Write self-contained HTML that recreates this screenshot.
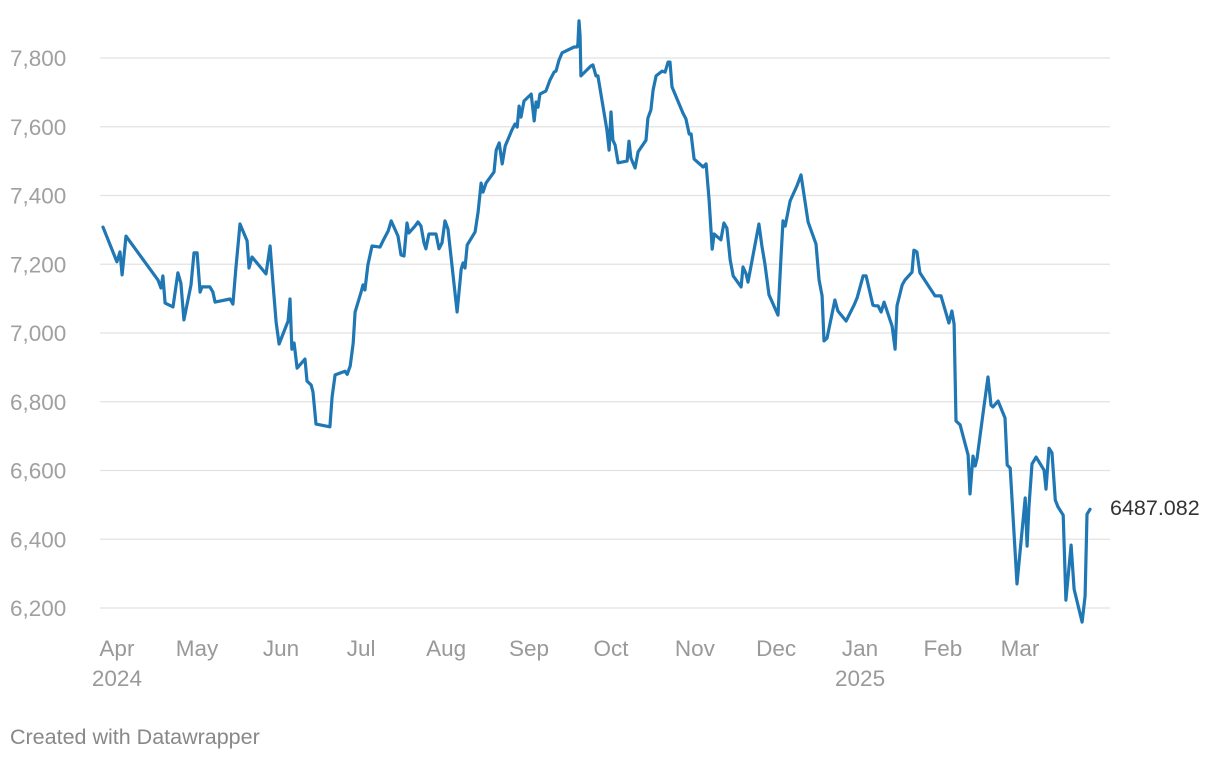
<!DOCTYPE html>
<html><head><meta charset="utf-8"><style>
body{margin:0;background:#fff;font-family:"Liberation Sans",sans-serif;}
svg text{font-family:"Liberation Sans",sans-serif;}
</style></head><body>
<svg id="chart" width="1220" height="760" xmlns="http://www.w3.org/2000/svg">
<g id="grid"></g>
<g id="yaxis"></g>
<g id="xaxis"></g>
<path id="line" fill="none" stroke="#1f77b4" stroke-width="3.2" stroke-linejoin="round" stroke-linecap="round"></path>
<text x="1110" y="515" font-size="21.5" fill="#333">6487.082</text>
<text x="10" y="744" font-size="21.5" fill="#888">Created with Datawrapper</text>
</svg>
<script>
const days=[0,5.1,6.2,7.0,8.4,20.1,21.2,21.9,22.7,25.6,27.4,28.5,29.6,32.2,33.3,34.4,35.5,36.2,39.1,40.2,41.0,46.5,47.5,48.6,50.1,52.7,53.4,54.5,59.6,61.1,62.2,63.3,64.4,67.7,68.4,69.1,69.9,71.0,73.9,74.6,76.1,76.8,77.9,83.0,83.8,84.9,88.5,89.3,90.4,91.5,92.2,94.4,95.1,95.8,96.9,98.4,101.3,102.4,104.3,105.4,107.9,109.0,110.1,111.2,111.9,114.1,115.2,116.3,117.4,118.1,119.2,121.8,122.9,124.0,125.1,126.2,129.5,131.0,131.7,132.4,133.2,136.1,137.2,138.3,139.0,140.1,143.0,143.8,144.9,146.0,147.1,149.6,150.7,151.5,152.2,152.9,154.0,156.6,157.7,158.4,159.1,159.8,162.0,163.5,165.0,165.7,166.8,167.9,172.3,173.4,173.7,174.1,174.5,174.8,178.5,179.2,180.3,181.0,184.3,185.1,185.8,186.5,187.3,188.4,191.7,192.4,193.1,194.6,195.7,198.6,199.3,200.4,201.2,202.3,204.5,205.6,206.7,207.4,208.1,212.1,213.2,214.4,215.1,216.2,219.5,220.6,221.7,222.8,223.5,226.0,227.1,228.2,229.4,230.5,233.4,234.1,235.2,235.9,239.9,241.0,242.1,243.6,246.9,248.0,248.7,249.5,251.3,253.8,255.3,257.9,260.8,261.9,263.0,263.7,264.8,267.7,268.8,271.8,274.7,275.8,278.0,279.1,281.6,282.4,283.5,284.6,285.7,288.6,289.7,290.4,292.3,293.3,295.9,296.6,297.7,298.8,304.3,306.5,309.4,310.5,311.3,312.0,313.5,316.4,317.1,318.2,319.0,319.7,322.2,323.7,324.8,325.5,327.4,329.9,330.7,331.8,334.3,337.3,338.0,338.7,339.8,341.3,344.2,344.9,346.0,347.1,348.3,349.3,351.2,352.2,354.1,355.2,358.1,359.2,359.9,361.0];
const values=[7308,7207,7236,7169,7282,7154,7131,7166,7087,7076,7175,7145,7038,7140,7233,7233,7119,7134,7134,7119,7090,7099,7084,7189,7317,7268,7189,7221,7172,7253,7140,7032,6968,7035,7099,6953,6971,6898,6924,6860,6849,6828,6735,6727,6814,6878,6889,6880,6904,6971,7061,7119,7140,7125,7198,7253,7250,7268,7297,7326,7282,7227,7224,7320,7291,7311,7323,7311,7262,7245,7288,7288,7245,7262,7326,7302,7061,7186,7204,7189,7256,7294,7352,7436,7410,7436,7468,7532,7553,7492,7544,7591,7608,7599,7660,7628,7675,7695,7617,7672,7657,7695,7704,7736,7759,7762,7794,7815,7832,7832,7841,7908,7864,7748,7777,7780,7748,7748,7591,7532,7643,7561,7547,7495,7500,7558,7509,7480,7527,7561,7625,7649,7707,7748,7762,7759,7788,7788,7716,7640,7623,7579,7579,7506,7483,7492,7387,7244,7288,7271,7320,7305,7212,7166,7134,7192,7172,7148,7317,7253,7201,7111,7052,7221,7326,7311,7384,7428,7460,7323,7259,7154,7108,6977,6985,7096,7064,7035,7081,7102,7166,7166,7081,7079,7079,7061,7090,7020,6953,7079,7140,7154,7177,7241,7236,7175,7108,7108,7029,7064,7026,6744,6733,6645,6532,6642,6613,6636,6785,6872,6790,6785,6802,6753,6616,6607,6270,6520,6380,6497,6619,6639,6601,6546,6665,6651,6514,6494,6470,6223,6383,6255,6159,6235,6473,6487];
const yTicks=[6200,6400,6600,6800,7000,7200,7400,7600,7800];
const yTickLabels=["6,200","6,400","6,600","6,800","7,000","7,200","7,400","7,600","7,800"];
const xTickDays=[5.1,34.4,65.1,94.4,125.5,155.8,185.8,216.5,246.2,276.9,307.2,335.4];
const xTickLabels=["Apr","May","Jun","Jul","Aug","Sep","Oct","Nov","Dec","Jan","Feb","Mar"];
const xYearLabels={"Apr":"2024","Jan":"2025"};

const NS="http://www.w3.org/2000/svg";
const xs=d=>103+(d-0)/(361-0)*(1090-103);
const ys=v=>608-(v-6200)/(7800-6200)*(608-58);
const grid=document.getElementById('grid'),ya=document.getElementById('yaxis'),xa=document.getElementById('xaxis');
yTicks.forEach((t,i)=>{
  const l=document.createElementNS(NS,'line');
  l.setAttribute('x1',100);l.setAttribute('x2',1110);l.setAttribute('y1',ys(t));l.setAttribute('y2',ys(t));
  l.setAttribute('stroke','#e2e2e2');l.setAttribute('stroke-width','1.3');
  
  
  grid.appendChild(l);
  const tx=document.createElementNS(NS,'text');
  tx.setAttribute('x',10);tx.setAttribute('y',ys(t)+8);tx.setAttribute('font-size','22.5');tx.setAttribute('fill','#a0a0a0');
  tx.textContent=yTickLabels[i];
  
  
  ya.appendChild(tx);
});
xTickDays.forEach((d,i)=>{
  const tx=document.createElementNS(NS,'text');
  tx.setAttribute('x',xs(d));tx.setAttribute('y',656);tx.setAttribute('font-size','22.5');tx.setAttribute('fill','#999');tx.setAttribute('text-anchor','middle');
  tx.textContent=xTickLabels[i];
  
  
  xa.appendChild(tx);
  if(xYearLabels[xTickLabels[i]]){
    const yr=document.createElementNS(NS,'text');
    yr.setAttribute('x',xs(d));yr.setAttribute('y',686);yr.setAttribute('font-size','22.5');yr.setAttribute('fill','#999');yr.setAttribute('text-anchor','middle');
    yr.textContent=xYearLabels[xTickLabels[i]];
    
    
    xa.appendChild(yr);
  }
});
document.getElementById('line').setAttribute('d',days.map((d,i)=>(i?'L':'M')+xs(d).toFixed(1)+','+ys(values[i]).toFixed(1)).join(''));
</script>
</body></html>
